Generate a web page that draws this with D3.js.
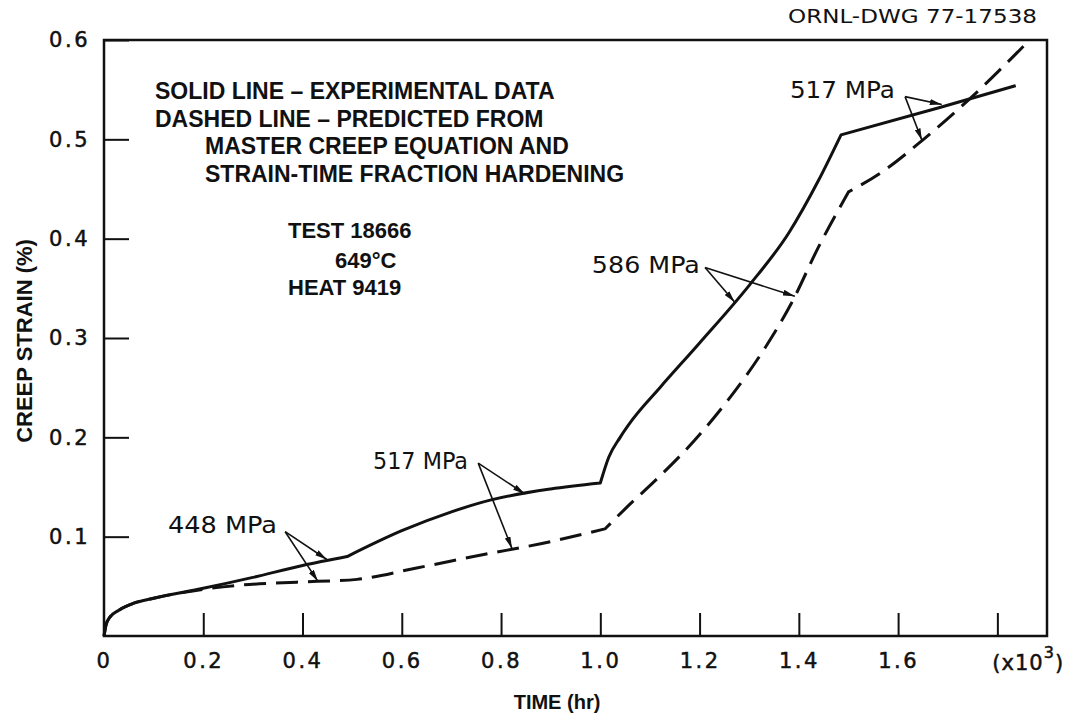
<!DOCTYPE html>
<html>
<head>
<meta charset="utf-8">
<script src="https://cdn.jsdelivr.net/npm/d3@7"></script>
<style>
  body { margin: 0; background: #fff; }
  svg text { fill: #111; }
</style>
</head>
<body>
<svg id="chart" width="1066" height="717"></svg>
<script>

// experimental creep curve (time in 10^3 hr, strain in %)
const solidTime   = [0, 0.004, 0.012, 0.03, 0.06, 0.1, 0.2, 0.3, 0.4, 0.49, 0.6, 0.7, 0.78, 0.9, 1.0, 1.017, 1.04, 1.065, 1.12, 1.2, 1.3, 1.38, 1.44, 1.485, 1.684, 1.837];
const solidStrain = [0, 0.011, 0.019, 0.026, 0.033, 0.038, 0.048, 0.059, 0.071, 0.080, 0.106, 0.125, 0.137, 0.148, 0.154, 0.18, 0.2, 0.218, 0.25, 0.295, 0.353, 0.406, 0.459, 0.5045, 0.532, 0.554];
const solidKinks  = [0.49, 1.0, 1.485];

// predicted curve
const dashedTime   = [0, 0.004, 0.012, 0.03, 0.06, 0.1, 0.2, 0.27, 0.33, 0.43, 0.51, 0.63, 0.76, 0.9, 1.01, 1.05, 1.118, 1.19, 1.258, 1.333, 1.385, 1.44, 1.5, 1.57, 1.65, 1.747, 1.865];
const dashedStrain = [0, 0.011, 0.019, 0.026, 0.033, 0.038, 0.047, 0.051, 0.053, 0.055, 0.057, 0.0685, 0.0815, 0.095, 0.108, 0.128, 0.16, 0.197, 0.238, 0.291, 0.335, 0.392, 0.447, 0.468, 0.4995, 0.542, 0.6];
const dashedKinks  = [1.01, 1.5];

// stress labels: label anchor, arrow origin, arrow tips on solid / dashed
const stressLabels = ["448 MPa", "517 MPa", "586 MPa", "517 MPa"];
const labelAt      = [[0.129, 0.112], [0.542, 0.176], [0.983, 0.374], [1.382, 0.55]];
const arrowFrom    = [[0.365, 0.105], [0.754, 0.174], [1.211, 0.371], [1.614, 0.543]];
const tipSolid     = [[0.449, 0.077], [0.848, 0.143], [1.271, 0.336], [1.688, 0.535]];
const tipDashed    = [[0.431, 0.055], [0.822, 0.088], [1.392, 0.342], [1.648, 0.499]];

const xTicks = [0, 0.2, 0.4, 0.6, 0.8, 1.0, 1.2, 1.4, 1.6, 1.8];
const yTicks = [0.1, 0.2, 0.3, 0.4, 0.5, 0.6];

const noteLines = ["SOLID LINE \u2013 EXPERIMENTAL DATA", "DASHED LINE \u2013 PREDICTED FROM", "MASTER CREEP EQUATION AND", "STRAIN-TIME FRACTION HARDENING"];
const testLines = ["TEST 18666", "649\u00B0C", "HEAT 9419"];

// layout
const W = 1066, H = 717;
const margin = {left: 104, top: 40, right: 19, bottom: 81};
const noteLayout = [[155, 99], [155, 127], [205, 154], [205, 182]];
const testLayout = [[288, 238], [335, 268], [288, 295]];
const labelWidth = [109, 95, 108, 105];

const svg = d3.select("#chart");

const x = d3.scaleLinear().domain([0, 1.9]).range([margin.left, W - margin.right]);
const y = d3.scaleLinear().domain([0, 0.6]).range([H - margin.bottom, margin.top]);

const numFont = "'DejaVu Sans', sans-serif";
const boldFont = "'Liberation Sans', Arial, sans-serif";

// frame
svg.append("rect")
    .attr("x", x(0)).attr("y", y(0.6))
    .attr("width", x(1.9) - x(0)).attr("height", y(0) - y(0.6))
    .attr("fill", "none").attr("stroke", "#111").attr("stroke-width", 2.5);

// y axis
const yAxis = svg.append("g")
    .attr("transform", `translate(${x(0)},0)`)
    .call(d3.axisLeft(y).tickValues(yTicks).tickSizeInner(-25).tickSizeOuter(0).tickPadding(14)
        .tickFormat(d3.format(".1f")));
yAxis.select(".domain").remove();
yAxis.selectAll(".tick line").attr("stroke", "#111").attr("stroke-width", 2);
yAxis.selectAll(".tick text")
    .attr("font-family", numFont).attr("font-size", 21).attr("letter-spacing", 2.5)
    .attr("fill", "#111").attr("stroke", "#111").attr("stroke-width", 0.5);

// x axis
const xAxis = svg.append("g")
    .attr("transform", `translate(0,${y(0)})`)
    .call(d3.axisBottom(x).tickValues(xTicks).tickSizeInner(-23).tickSizeOuter(0).tickPadding(17)
        .tickFormat(d => d === 0 ? "0" : d === 1.8 ? "" : d3.format(".1f")(d)));
xAxis.select(".domain").remove();
xAxis.selectAll(".tick line").attr("stroke", "#111").attr("stroke-width", 2)
    .filter(d => d === 0).remove();
xAxis.selectAll(".tick text")
    .attr("font-family", numFont).attr("font-size", 21).attr("letter-spacing", 2.5)
    .attr("fill", "#111").attr("stroke", "#111").attr("stroke-width", 0.5);

// multiplier label at last tick
const mult = svg.append("text")
    .attr("x", x(1.8) - 5).attr("y", y(0) + 34)
    .attr("font-family", numFont).attr("font-size", 21).attr("letter-spacing", 1)
    .attr("fill", "#111").attr("stroke", "#111").attr("stroke-width", 0.5);
mult.append("tspan").text("(x10");
mult.append("tspan").attr("font-size", 16).attr("dy", -12).text("3");
mult.append("tspan").attr("dy", 12).text(")");

// axis titles
svg.append("text")
    .attr("x", 557).attr("y", H - 8)
    .attr("text-anchor", "middle")
    .attr("font-family", boldFont).attr("font-weight", "bold").attr("font-size", 20)
    .text("TIME (hr)");

svg.append("text")
    .attr("transform", `translate(32,${y(0.3) + 3}) rotate(-90)`)
    .attr("text-anchor", "middle")
    .attr("font-family", boldFont).attr("font-weight", "bold").attr("font-size", 22)
    .text("CREEP STRAIN (%)");

svg.append("text")
    .attr("x", 1037).attr("y", 23)
    .attr("text-anchor", "end")
    .attr("font-family", numFont).attr("font-size", 19)
    .attr("textLength", 249).attr("lengthAdjust", "spacingAndGlyphs")
    .text("ORNL-DWG 77-17538");

// curves
const line = d3.line().x(d => x(d[0])).y(d => y(d[1])).curve(d3.curveMonotoneX);

function stagedPath(ts, vs, kinks) {
    const segs = [];
    let cur = [];
    ts.forEach((t, i) => {
        cur.push([t, vs[i]]);
        if (kinks.includes(t)) { segs.push(cur); cur = [[t, vs[i]]]; }
    });
    if (cur.length > 1) segs.push(cur);
    return segs.map((s, i) => {
        const d = line(s);
        return i ? d.replace(/^M[^LC]*/, "") : d;
    }).join("");
}

svg.append("path")
    .attr("d", stagedPath(dashedTime, dashedStrain, dashedKinks))
    .attr("fill", "none").attr("stroke", "#111").attr("stroke-width", 3)
    .attr("stroke-dasharray", "22,10");

svg.append("path")
    .attr("d", stagedPath(solidTime, solidStrain, solidKinks))
    .attr("fill", "none").attr("stroke", "#111").attr("stroke-width", 3)
    .attr("stroke-linejoin", "round");

// arrow marker
svg.append("defs").append("marker")
    .attr("id", "head")
    .attr("viewBox", "0 0 12 6")
    .attr("refX", 12).attr("refY", 3)
    .attr("markerWidth", 12).attr("markerHeight", 6)
    .attr("markerUnits", "userSpaceOnUse")
    .attr("orient", "auto")
    .append("path").attr("d", "M0,0L12,3L0,6z").attr("fill", "#111");

// stress annotations
stressLabels.forEach((lab, i) => {
    svg.append("text")
        .attr("x", x(labelAt[i][0])).attr("y", y(labelAt[i][1]))
        .attr("dy", "0.36em")
        .attr("font-family", numFont).attr("font-size", 23)
        .attr("textLength", labelWidth[i]).attr("lengthAdjust", "spacingAndGlyphs")
        .text(lab);
    [tipSolid[i], tipDashed[i]].forEach(tip => {
        svg.append("line")
            .attr("x1", x(arrowFrom[i][0])).attr("y1", y(arrowFrom[i][1]))
            .attr("x2", x(tip[0])).attr("y2", y(tip[1]))
            .attr("stroke", "#111").attr("stroke-width", 1.6)
            .attr("marker-end", "url(#head)");
    });
});

// notes
noteLines.forEach((t, i) => {
    svg.append("text")
        .attr("x", noteLayout[i][0]).attr("y", noteLayout[i][1])
        .attr("font-family", boldFont).attr("font-weight", "bold").attr("font-size", 23)
        .text(t);
});
testLines.forEach((t, i) => {
    svg.append("text")
        .attr("x", testLayout[i][0]).attr("y", testLayout[i][1])
        .attr("font-family", boldFont).attr("font-weight", "bold").attr("font-size", 22)
        .text(t);
});

</script>
</body>
</html>
